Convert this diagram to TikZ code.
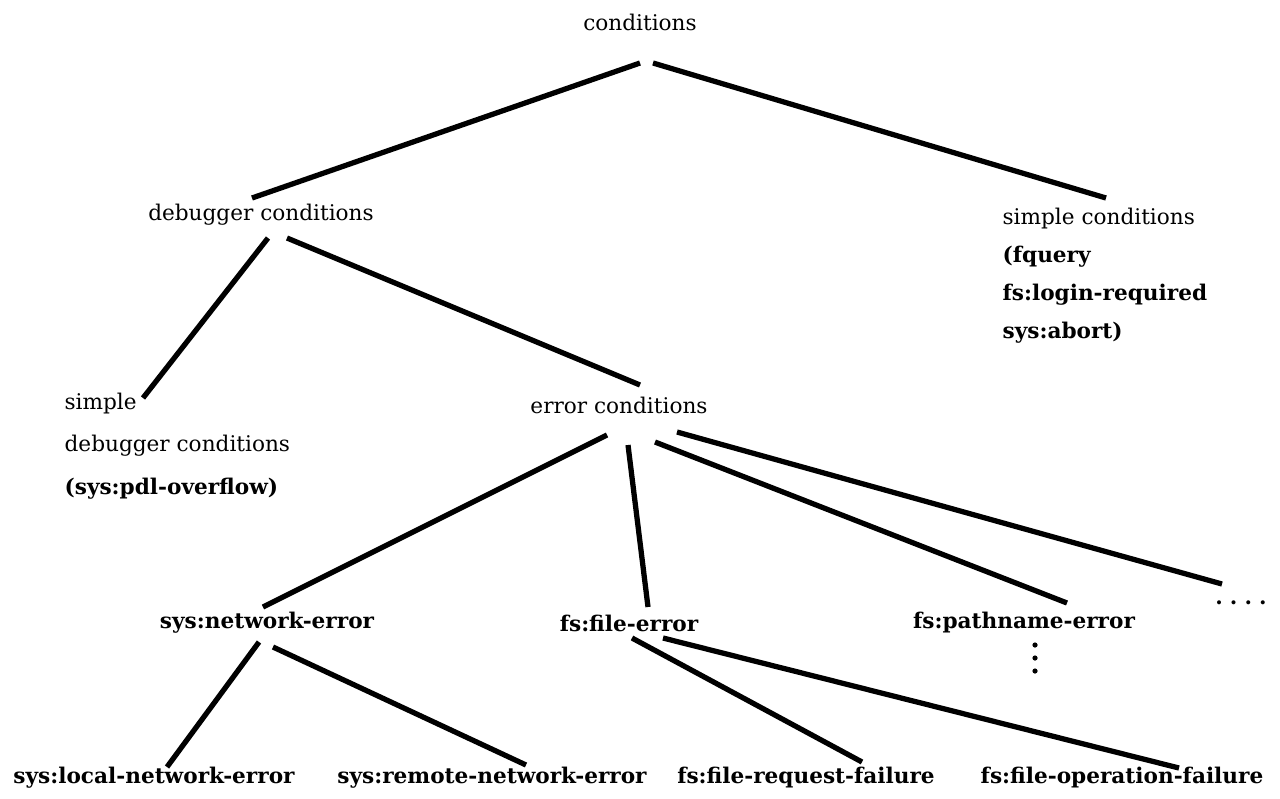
\documentclass[tikz,border=0pt]{standalone}
\usepackage{fontspec}
\setmainfont{DejaVu Serif}
\usetikzlibrary{calc}
\begin{document}
\begin{tikzpicture}[x=0.02cm,y=-0.02cm,line width=3pt,
            every node/.style={font=\fontsize{12.3}{14}\selectfont},
            sym/.style={font=\fontsize{12.3}{14}\selectfont\bfseries}]
            \useasboundingbox (0,0) rectangle (1280,798);
            \node (cond) at (640,22) {conditions};
            \node (dbg) at (261,215) {debugger conditions};
            \node[anchor=north west,inner sep=0pt,align=left,font=\fontsize{12.3}{21.8}\selectfont] (simp) at (1000,205)
                {simple conditions\\\textbf{(fquery}\\\textbf{fs:login-required}\\\textbf{sys:abort)}};
            \node[anchor=north west,inner sep=0pt,align=left,font=\fontsize{12.3}{24.4}\selectfont] (sdbg) at (62,390)
                {simple\\debugger conditions\\\textbf{(sys:pdl-overflow)}};
            \node (err) at (619,405) {error conditions};
            \node[sym] (net) at (267,623) {sys:network-error};
            \node[sym] (file) at (629,623) {fs:file-error};
            \node[sym] (path) at (1024,623) {fs:pathname-error};
            \node[sym] (more) at (1241,603) {.\hspace{4pt}.\hspace{4pt}.\hspace{4pt}.};
            \foreach \y in {22,35,48}
                \fill ($(path)+(11,\y)$) circle (2.6);
            \node[sym] (loc) at (154,778) {sys:local-network-error};
            \node[sym] (rem) at (492,778) {sys:remote-network-error};
            \node[sym] (req) at (806,778) {fs:file-request-failure};
            \node[sym] (op) at (1122,778) {fs:file-operation-failure};
            \draw ($(cond)+(0,41)$) to ($(dbg)+(-9,-17)$);
            \draw ($(cond)+(13,41)$) to ($(simp.north west)+(106,-7)$);
            \draw ($(dbg)+(7,23)$) to ($(sdbg.north west)+(81,8)$);
            \draw ($(dbg)+(26,23)$) to ($(err)+(21,-20)$);
            \draw ($(err)+(-12,30)$) to ($(net)+(-4,-16)$);
            \draw ($(err)+(9,40)$) to ($(file)+(19,-16)$);
            \draw ($(err)+(36,37)$) to ($(path)+(43,-20)$);
            \draw ($(err)+(58,27)$) to ($(more)+(-19,-19)$);
            \draw ($(net)+(-8,19)$) to ($(loc)+(13,-11)$);
            \draw ($(net)+(6,24)$) to ($(rem)+(34,-13)$);
            \draw ($(file)+(3,15)$) to ($(req)+(56,-16)$);
            \draw ($(file)+(34,15)$) to ($(op)+(57,-10)$);
        \end{tikzpicture}
\end{document}
